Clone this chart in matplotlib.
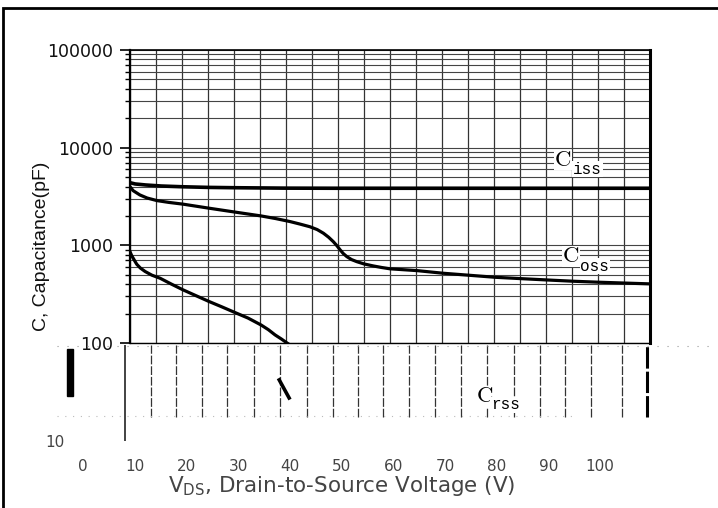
import matplotlib
matplotlib.use("Agg")
import matplotlib.pyplot as plt
from matplotlib.patches import Rectangle
from matplotlib.ticker import LogLocator, FixedLocator, NullFormatter, FixedFormatter

plt.rcParams['mathtext.default'] = 'regular'

# VDS in grid units (0 = left edge of the grid, 100 = right edge)
ciss_v = [0, 1, 3, 6, 10, 15, 20, 30, 40, 60, 80, 100]
ciss_c = [4380, 4250, 4150, 4050, 3980, 3920, 3890, 3850, 3840, 3840, 3840, 3840]

coss_v = [0, 0.6, 1.9, 3.3, 5.2, 7.5, 10.2, 15.2, 20.2, 25.2, 28, 30.8, 32.7,
          34.6, 36, 37.2, 38.2, 39.1, 39.8, 40.4, 41, 41.7, 42.6, 43.6, 45,
          46.8, 48.4, 50, 55.2, 60.2, 65.2, 70.2, 75.2, 80.2, 85.2, 90.2, 100]
coss_c = [3990, 3630, 3280, 3050, 2870, 2750, 2640, 2400, 2190, 2000, 1880, 1750, 1650,
          1550, 1450, 1330, 1210, 1090, 990, 900, 825, 766, 715, 681, 645,
          615, 593, 575, 551, 518, 494, 471, 456, 442, 429, 419, 403]

crss_v = [0, 0.3, 0.6, 1.0, 1.3, 2.0, 2.9, 4.2, 5.8, 8, 10.2, 12.7, 15.2, 17.7,
          20.2, 22.7, 25.2, 26.6, 27.9, 29.1, 30.2, 31.5]
crss_c = [860, 790, 740, 680, 640, 585, 540, 495, 460, 400, 350, 305, 266, 234,
          205, 180, 153, 137, 121, 110, 100, 90]

# broken fragment below the 100 line
crss_tail_v = [28.7, 30.6]
crss_tail_c = [42, 27.5]

# broken grid fragments in the 10..100 band
lower_v = [4, 8.8, 13.8, 18.7, 23.8, 28.8, 34, 39, 43.8, 48.7, 53.7, 58.7,
           63.7, 68.7, 73.8, 78.8, 83.7, 88.7, 94.6]

x_ticks = [0, 10, 20, 30, 40, 50, 60, 70, 80, 90, 100]
y_ticks = [100, 1000, 10000, 100000]
y_labels = ['100', '1000', '10000', '100000']

W, H = 718, 508
fig = plt.figure(figsize=(W / 100, H / 100), dpi=100)

def box(x0, y0, x1, y1):
    # pixel box (top-left origin) -> figure fraction
    return [x0 / W, 1 - y1 / H, (x1 - x0) / W, (y1 - y0) / H]

# outer frame (only top and left edges visible)
fig.patches.append(Rectangle((3 / W, -0.2), 1.2, 1.2 - 8 / H,
                             transform=fig.transFigure, fill=False,
                             edgecolor='black', lw=2))

ax = fig.add_axes(box(130, 50, 650, 343))
ax.set_xlim(0, 100)
ax.set_yscale('log')
ax.set_ylim(100, 100000)

ax.plot(ciss_v, ciss_c, color='black', lw=2.6)
ax.plot(coss_v, coss_c, color='black', lw=2.3)
ax.plot(crss_v, crss_c, color='black', lw=2.3)

ax.xaxis.set_major_locator(FixedLocator(range(0, 101, 5)))
ax.xaxis.set_major_formatter(NullFormatter())
ax.tick_params(axis='x', length=0)
ax.yaxis.set_major_locator(FixedLocator(y_ticks))
ax.yaxis.set_major_formatter(FixedFormatter(y_labels))
ax.yaxis.set_minor_locator(LogLocator(base=10, subs=range(2, 10)))
ax.yaxis.set_minor_formatter(NullFormatter())
ax.tick_params(axis='y', which='major', length=7.2, width=1.2, pad=5,
               labelsize=12.5, labelcolor='#111')
ax.tick_params(axis='y', which='minor', length=3.6, width=1)
for t in ax.get_yticklabels():
    t.set_family('DejaVu Sans')
ax.grid(True, axis='x', color='#333', lw=0.9)
ax.grid(True, axis='y', which='both', color='#444', lw=0.8)
ax.spines['left'].set_linewidth(1.6)
ax.spines['top'].set_linewidth(1.2)
ax.spines['right'].set_linewidth(2.2)
ax.spines['bottom'].set_linewidth(1.0)

# curve labels
big = dict(family='cmr10', fontsize=16.5, color='black', va='center', ha='left',
           bbox=dict(facecolor='white', edgecolor='none', pad=0.5), zorder=5)
sub = dict(family='Liberation Mono', fontsize=11.5, color='black', va='center',
           ha='left', bbox=dict(facecolor='white', edgecolor='none', pad=0.5),
           zorder=5)
ax.text(81.7, 7480, 'C', **big)
ax.text(85.2, 6000, 'iss', **sub)
ax.text(83.3, 769, 'C', **big)
ax.text(86.6, 610, 'oss', **sub)

# lower broken band 10..100
lo = fig.add_axes(box(130, 343, 650, 441))
lo.set_xlim(0, 100)
lo.set_yscale('log')
lo.set_ylim(10, 100)
for s in lo.spines.values():
    s.set_visible(False)
lo.patch.set_alpha(0)
lo.xaxis.set_major_locator(FixedLocator([]))
lo.yaxis.set_major_locator(FixedLocator([10]))
lo.yaxis.set_major_formatter(FixedFormatter(['10']))
lo.yaxis.set_minor_locator(FixedLocator([]))
lo.tick_params(axis='y', length=0, pad=47, labelsize=11, labelcolor='#444')
lo.vlines(lower_v, 17.6, 96, colors='#333', lw=0.9, linestyles=(0, (7, 1.5)))
lo.vlines([-1.0], 10, 96, colors='#222', lw=1.2, clip_on=False)
lo.vlines([99.4], 17.6, 96, colors='black', lw=2.2, linestyles=(0, (7, 1)),
          clip_on=False)
lo.hlines([94], -14, 112, colors='#999', lw=0.8, linestyles=(0, (1, 8)),
          clip_on=False)
lo.hlines([18], -14, 86, colors='#bbb', lw=0.8, linestyles=(0, (1, 6)),
          clip_on=False)
lo.plot(crss_tail_v, crss_tail_c, color='black', lw=2.6)
lo.text(66.7, 28.4, 'C', **big)
lo.text(69.4, 23.3, 'rss', **sub)

fig.patches.append(Rectangle((67 / W, 1 - 396 / H), 6 / W, 47 / H,
                             transform=fig.transFigure, color='black'))

# x tick labels row (offset from the grid)
xl = fig.add_axes(box(60, 444, 650, 445))
xl.set_xlim((60 - 83) / 5.17, (650 - 83) / 5.17)
for s in xl.spines.values():
    s.set_visible(False)
xl.patch.set_alpha(0)
xl.set_yticks([])
xl.set_xticks(x_ticks)
xl.tick_params(axis='x', length=0, pad=10, labelsize=11, labelcolor='#444')

fig.text(342 / W, 1 - 486 / H, 'V$_{DS}$, Drain-to-Source Voltage (V)',
         ha='center', va='center', fontsize=15.5, color='#444',
         family='DejaVu Sans')
fig.text(42 / W, 1 - 246 / H, 'C, Capacitance(pF)', rotation=90,
         ha='center', va='center', fontsize=14, color='#111',
         family='Liberation Sans')

fig.savefig('out.png', dpi=100)
